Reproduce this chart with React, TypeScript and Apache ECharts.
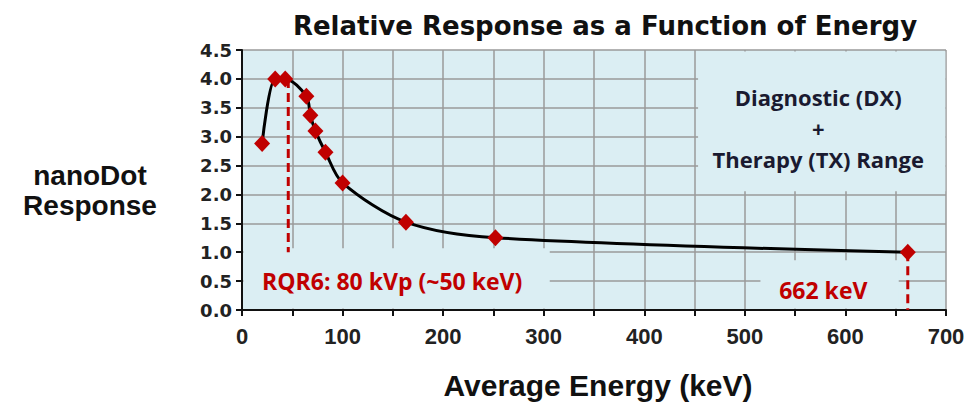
import React, { useEffect, useRef } from "react";
import * as echarts from "echarts";

// Average energy (keV) and nanoDot relative response
const energyKeV = [20, 33, 43, 64, 68, 73, 83, 100, 163, 252, 662];
const relResponse = [2.88, 4.0, 4.0, 3.7, 3.37, 3.1, 2.73, 2.2, 1.52, 1.25, 1.0];

// Reference markers (dashed red drop lines)
const rqr6Line = [[46, 4.0], [46, 1.0]];
const cs137Line = [[662, 1.0], [662, 0]];

const titleText = "Relative Response as a Function of Energy";
const xName = "Average Energy (keV)";
const yName = "nanoDot\nResponse";
const rangeNote = "Diagnostic (DX)\n+\nTherapy (TX) Range";
const rqr6Note = "RQR6: 80 kVp (~50 keV)";
const cs137Note = "662 keV";

const BG = "#dbeef3";
const RED = "#c00000";
const GRID = "#9a9a9a";

export default function App() {
  const ref = useRef<HTMLDivElement>(null);
  useEffect(() => {
    const chart = echarts.init(ref.current!, null, { renderer: "svg" });
    chart.setOption({
      animation: false,
      backgroundColor: "#ffffff",
      title: {
        text: titleText,
        left: 600,
        textAlign: "center",
        top: 8,
        textStyle: { fontFamily: "DejaVu Sans", fontWeight: "bold", fontSize: 26, color: "#111" },
      },
      grid: {
        left: 242,
        top: 50,
        width: 704,
        height: 260,
        show: true,
        backgroundColor: BG,
        borderWidth: 0,
        containLabel: false,
        outerBoundsMode: "none",
      },
      xAxis: {
        type: "value",
        min: 0,
        max: 700,
        interval: 50,
        name: xName,
        nameLocation: "middle",
        nameGap: 60,
        nameTextStyle: { fontFamily: "Liberation Sans", fontWeight: "bold", fontSize: 30, color: "#111", padding: [0, 0, 0, 8] },
        axisLine: { lineStyle: { color: "#111", width: 2 } },
        axisTick: { show: true, length: 6, lineStyle: { color: "#111", width: 2 } },
        axisLabel: {
          formatter: (v: number) => (v % 100 === 0 ? String(v) : ""),
          fontFamily: "Liberation Sans",
          fontWeight: "bold",
          fontSize: 22,
          color: "#222",
          margin: 15,
        },
        splitLine: { show: true, lineStyle: { color: GRID, width: 1.5 } },
      },
      yAxis: {
        type: "value",
        min: 0,
        max: 4.5,
        interval: 0.5,
        axisLine: { show: true, lineStyle: { color: "#111", width: 2 } },
        axisTick: { show: true, length: 6, lineStyle: { color: "#111", width: 2 } },
        axisLabel: {
          formatter: (v: number) => v.toFixed(1),
          fontFamily: "DejaVu Sans",
          fontWeight: "bold",
          fontSize: 18,
          color: "#222",
          margin: 10,
        },
        splitLine: { show: true, lineStyle: { color: GRID, width: 1.5 } },
      },
      series: [
        {
          type: "line",
          data: rqr6Line,
          showSymbol: false,
          lineStyle: { color: RED, width: 3, type: [9, 5] },
          z: 3,
        },
        {
          type: "line",
          data: cs137Line,
          showSymbol: false,
          lineStyle: { color: RED, width: 3, type: [9, 5] },
          z: 3,
        },
        {
          type: "line",
          data: energyKeV.map((e, i) => [e, relResponse[i]]),
          smooth: 0.3,
          symbol: "diamond",
          symbolSize: [16, 17],
          itemStyle: { color: RED },
          lineStyle: { color: "#000", width: 3 },
          z: 4,
        },
      ],
    });

    const px = (x: number, y: number) => chart.convertToPixel({ gridIndex: 0 }, [x, y]) as number[];
    const rect = (x0: number, y0: number, x1: number, y1: number, insetTop = 0) => {
      const a = px(x0, y1);
      const b = px(x1, y0);
      return {
        type: "rect",
        z: 1,
        silent: true,
        shape: { x: a[0] + 1.5, y: a[1] + insetTop, width: b[0] - a[0] - 1.5, height: b[1] - a[1] - 1.5 - insetTop },
        style: { fill: BG },
      };
    };
    const pRange = px(573, 3.15);
    const pRqr = px(20, 0.5);
    const pCs = px(578, 0.35);
    chart.setOption({
      graphic: [
        rect(0, 0, 306, 1.07),
        rect(514, 0, 653, 0.86),
        rect(452, 2.03, 699.3, 4.5, 1.5),
        {
          type: "text",
          z: 5,
          x: pRange[0],
          y: pRange[1],
          style: {
            text: rangeNote,
            fontFamily: "Open Sans",
            fontWeight: "bold",
            fontSize: 22,
            lineHeight: 31,
            fill: "#1a1a30",
            align: "center",
            verticalAlign: "middle",
          },
        },
        {
          type: "text",
          z: 5,
          x: pRqr[0],
          y: pRqr[1],
          style: {
            text: rqr6Note,
            fontFamily: "Open Sans",
            fontWeight: "bold",
            fontSize: 23,
            fill: RED,
            align: "left",
            verticalAlign: "middle",
          },
        },
        {
          type: "text",
          z: 5,
          x: pCs[0],
          y: pCs[1],
          style: {
            text: cs137Note,
            fontFamily: "Open Sans",
            fontWeight: "bold",
            fontSize: 23,
            fill: RED,
            align: "center",
            verticalAlign: "middle",
          },
        },
        {
          type: "text",
          z: 5,
          x: 90,
          y: 190,
          style: {
            text: yName,
            fontFamily: "Liberation Sans",
            fontWeight: "bold",
            fontSize: 28,
            lineHeight: 30,
            fill: "#111",
            align: "center",
            verticalAlign: "middle",
          },
        },
      ],
    });
    return () => chart.dispose();
  }, []);
  return <div ref={ref} style={{ position: "fixed", left: 0, top: 0, width: 966, height: 404 }} />;
}
